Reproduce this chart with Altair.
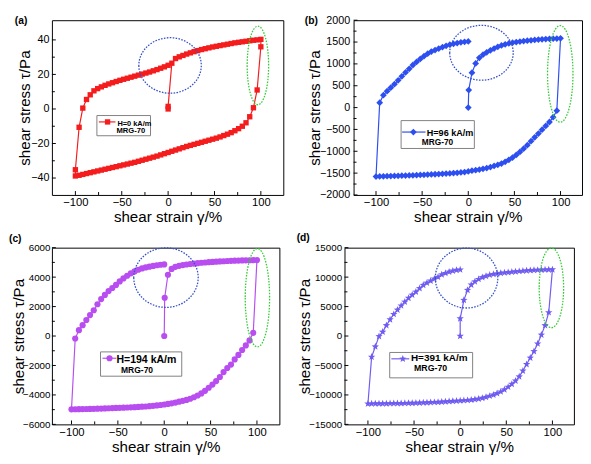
import math
import altair as alt
import pandas as pd

FONT = "Liberation Sans"

# ---------------- data ----------------
STRAIN_VIRGIN = [4, 8, 12, 16, 20, 24, 28, 32, 36, 40, 44, 48, 52, 56, 60, 64, 68, 72, 76, 80, 84, 88, 92, 96, 100]
STRAIN_DOWN = [96, 92, 88, 84, 80, 76, 72, 68, 64, 60, 56, 52, 48, 44, 40, 36, 32, 28, 24, 20, 16, 12, 8, 4, 0,
               -4, -8, -12, -16, -20, -24, -28, -32, -36, -40, -44, -48, -52, -56, -60, -64, -68, -72, -76, -80,
               -84, -88, -92, -96, -100]
STRAIN_UP = [-96, -92, -88, -84, -80, -76, -72, -68, -64, -60, -56, -52, -48, -44, -40, -36, -32, -28, -24, -20,
             -16, -12, -8, -4, 0]

# panel (a) H=0 kA/m
A_START_STRAIN = [0, 0]
A_START_STRESS = [0, 1.5]
A_VIRGIN = [26.5, 29.2, 30.2, 31.0, 31.8, 32.5, 33.2, 33.8, 34.4, 34.9, 35.4, 35.9, 36.3, 36.7, 37.1, 37.5, 37.9,
            38.3, 38.6, 38.9, 39.2, 39.5, 39.8, 40.0, 40.3]
A_TOP_STRAIN = [100]
A_TOP_STRESS = [36]
A_DOWN = [11, 0.7, -4.5, -8.0, -10.0, -11.4, -12.6, -13.7, -14.6, -15.4, -16.2, -16.9, -17.5, -18.1, -18.7, -19.3,
          -19.9, -20.5, -21.1, -21.7, -22.4, -23.1, -23.8, -24.5, -25.2, -25.9, -26.6, -27.3, -27.9, -28.5, -29.1,
          -29.7, -30.3, -30.9, -31.4, -31.9, -32.4, -32.9, -33.4, -33.9, -34.4, -34.9, -35.4, -35.9, -36.4, -36.9,
          -37.4, -37.9, -38.4, -38.8]
A_BOT_STRAIN = [-100]
A_BOT_STRESS = [-35.2]
A_UP = [-10.6, 0.5, 5.5, 8.2, 10.5, 11.8, 12.8, 13.7, 14.5, 15.2, 15.9, 16.6, 17.2, 17.8, 18.4, 19.0, 19.6, 20.2,
        20.8, 21.4, 22.1, 22.8, 23.6, 24.4, 25.3]

# panel (b) H=96 kA/m
B_START_STRAIN = [0, 0.5]
B_START_STRESS = [0, 400]
B_VIRGIN = [800, 1010, 1140, 1210, 1265, 1310, 1352, 1390, 1422, 1448, 1468, 1485, 1500, 1512, 1522, 1532, 1541,
            1549, 1556, 1562, 1568, 1573, 1577, 1581, 1585]
B_DOWN = [-70, -220, -330, -420, -505, -595, -680, -770, -860, -940, -1015, -1085, -1145, -1195, -1240, -1280,
          -1310, -1335, -1362, -1385, -1402, -1418, -1432, -1445, -1462, -1475, -1485, -1493, -1500, -1506, -1511,
          -1516, -1521, -1526, -1530, -1534, -1538, -1542, -1546, -1550, -1553, -1556, -1559, -1562, -1565, -1568,
          -1571, -1574, -1577, -1580]
B_UP = [113, 285, 375, 455, 535, 625, 715, 805, 887, 975, 1045, 1115, 1178, 1235, 1282, 1318, 1352, 1383, 1413,
        1440, 1460, 1478, 1494, 1505, 1515]

# panel (c) H=194 kA/m
C_START_STRAIN = [0, 0.5]
C_START_STRESS = [0, 2600]
C_VIRGIN = [4160, 4560, 4700, 4770, 4820, 4860, 4890, 4920, 4950, 4975, 4995, 5015, 5035, 5050, 5065, 5080, 5095,
            5105, 5115, 5125, 5135, 5140, 5145, 5150, 5160]
C_DOWN = [220, -300, -640, -950, -1280, -1590, -1940, -2170, -2450, -2780, -3060, -3300, -3510, -3720, -3900,
          -4040, -4160, -4260, -4340, -4400, -4460, -4520, -4570, -4610, -4650, -4685, -4715, -4740, -4765, -4785,
          -4800, -4815, -4830, -4845, -4855, -4865, -4875, -4885, -4895, -4905, -4915, -4925, -4935, -4945, -4950,
          -4955, -4962, -4968, -4973, -4980]
C_UP = [-170, 400, 740, 1090, 1420, 1750, 2160, 2510, 2790, 3050, 3260, 3470, 3710, 3910, 4095, 4260, 4390, 4500,
        4590, 4660, 4710, 4760, 4805, 4840, 4865]

# panel (d) H=391 kA/m
D_START_STRAIN = [0, 0]
D_START_STRESS = [0, 2970]
D_VIRGIN = [6100, 7800, 8700, 9230, 9650, 9950, 10180, 10370, 10500, 10600, 10680, 10750, 10820, 10880, 10950,
            11000, 11050, 11100, 11140, 11180, 11210, 11240, 11260, 11280, 11290]
D_DOWN = [4000, 1800, 200, -1300, -2600, -3700, -4800, -5900, -6900, -7600, -8150, -8650, -9100, -9450, -9730,
          -9980, -10180, -10370, -10530, -10660, -10760, -10840, -10900, -10940, -10980, -11020, -11060, -11100,
          -11140, -11180, -11210, -11240, -11270, -11295, -11320, -11340, -11360, -11375, -11390, -11405, -11420,
          -11430, -11440, -11450, -11460, -11468, -11476, -11484, -11492, -11500]
D_UP = [-3550, -1800, -50, 700, 1800, 2800, 3700, 4450, 5150, 5800, 6450, 6980, 7500, 8100, 8650, 9020, 9380,
        9720, 10020, 10430, 10670, 10900, 11080, 11200, 11260]

LEGEND_LABELS = ["H=0 kA/m", "H=96 kA/m", "H=194 kA/m", "H=391 kA/m"]
SAMPLE_NAME = "MRG-70"
PANEL_LETTERS = ["(a)", "(b)", "(c)", "(d)"]

X_MAJOR = [-100, -50, 0, 50, 100]
X_MINOR = [-75, -25, 25, 75]
A_Y_MAJOR = [-40, -20, 0, 20, 40]
A_Y_MINOR = [-30, -10, 10, 30]
B_Y_MAJOR = [-2000, -1500, -1000, -500, 0, 500, 1000, 1500, 2000]
B_Y_MINOR = [-1750, -1250, -750, -250, 250, 750, 1250, 1750]
C_Y_MAJOR = [-6000, -4000, -2000, 0, 2000, 4000, 6000]
C_Y_MINOR = [-5000, -3000, -1000, 1000, 3000, 5000]
D_Y_MAJOR = [-15000, -10000, -5000, 0, 5000, 10000, 15000]
D_Y_MINOR = [-12500, -7500, -2500, 2500, 7500, 12500]


def seq(*parts):
    out = []
    for p in parts:
        out += list(p)
    return out


# ---------------- styling helpers ----------------
def star_path():
    pts = []
    for k in range(10):
        ang = math.radians(-90 + 36 * k)
        r = 1.0 if k % 2 == 0 else 0.42
        pts.append(f"{r * math.cos(ang):.3f} {r * math.sin(ang):.3f}")
    return "M " + " L ".join(pts) + " Z"


def ellipse(w, h):
    m = max(w, h)
    rx, ry = w / m, h / m
    path = (f"M {-rx:.3f} 0 A {rx:.3f} {ry:.3f} 0 1 0 {rx:.3f} 0 "
            f"A {rx:.3f} {ry:.3f} 0 1 0 {-rx:.3f} 0 Z")
    return path, m * m


def panel(p):
    w, h = p["w"], p["h"]
    xs = alt.Scale(domain=p["xdom"], nice=False, zero=False)
    ys = alt.Scale(domain=p["ydom"], nice=False, zero=False)

    xaxis = alt.Axis(values=X_MAJOR, format="d", ticks=False, domain=False, grid=False, labelFont=FONT,
                     labelFontSize=11.5, labelColor="black", labelPadding=2,
                     title="shear strain γ/%", titleFont=FONT, titleFontSize=15.5,
                     titleFontWeight="normal", titleColor="black", titleY=27.5,
                     titleBaseline="alphabetic")
    yaxis = alt.Axis(values=p["ymajor"], format="d", ticks=False, domain=False, grid=False, labelFont=FONT,
                     labelFontSize=p["lfs"], labelColor="black", labelPadding=p["lpad"],
                     title="shear stress τ/Pa", titleFont=FONT, titleFontSize=15.5,
                     titleFontWeight="normal", titleColor="black", titleX=p["titleX"],
                     titleBaseline="top")

    def X(f):
        return alt.X(f, scale=xs, axis=xaxis)

    def Y(f):
        return alt.Y(f, scale=ys, axis=yaxis)

    df = pd.DataFrame({"i": list(range(len(p["strain"]))), "g": p["strain"], "t": p["stress"]})
    base = alt.Chart(df)
    line = base.mark_line(color=p["color"], strokeWidth=1.2).encode(
        x=X("g:Q"), y=Y("t:Q"), order="i:Q")
    pts = base.mark_point(filled=True, shape=p["shape"], size=p["size"], color=p["color"],
                          opacity=1).encode(x=X("g:Q"), y=Y("t:Q"))

    layers = [line, pts]

    # inward ticks
    for vals, ln in ((X_MAJOR, 4), (X_MINOR, 3)):
        layers.append(alt.Chart(pd.DataFrame({"v": vals})).mark_rule(color="black", strokeWidth=1).encode(
            x=X("v:Q"), y=alt.value(h), y2=alt.value(h - ln)))
    for vals, ln in ((p["ymajor"], 4), (p["yminor"], 3)):
        layers.append(alt.Chart(pd.DataFrame({"v": vals})).mark_rule(color="black", strokeWidth=1).encode(
            y=Y("v:Q"), x=alt.value(0), x2=alt.value(ln)))

    # annotation ellipses
    rows = []
    for (cx, cy, ew, eh, col) in p["ann"]:
        path, sz = ellipse(ew, eh * p["vscale"])
        rows.append({"cx": cx, "cy": cy, "path": path, "sz": sz, "c": col})
    adf = pd.DataFrame(rows)
    layers.append(alt.Chart(adf).mark_point(filled=False, strokeWidth=1.3, strokeDash=[1.6, 1.4],
                                            opacity=1).encode(
        x=X("cx:Q"), y=Y("cy:Q"),
        shape=alt.Shape("path:N", scale=None),
        size=alt.Size("sz:Q", scale=None),
        color=alt.Color("c:N", scale=None)))

    # legend box
    lg = p["legend"]
    box = pd.DataFrame({"x1": [lg["box"][0]], "x2": [lg["box"][1]], "y1": [lg["box"][2]], "y2": [lg["box"][3]]})
    layers.append(alt.Chart(box).mark_rect(fill="white", stroke="#808080", strokeWidth=1).encode(
        x=X("x1:Q"), x2="x2:Q", y=Y("y1:Q"), y2="y2:Q"))
    samp = pd.DataFrame({"x1": [lg["line"][0]], "x2": [lg["line"][1]], "y": [lg["line"][2]],
                         "mx": [lg["marker"]]})
    layers.append(alt.Chart(samp).mark_rule(color=p["color"], strokeWidth=1.2).encode(
        x=X("x1:Q"), x2="x2:Q", y=Y("y:Q")))
    layers.append(alt.Chart(samp).mark_point(filled=True, shape=p["shape"], size=p["size"],
                                             color=p["color"], opacity=1).encode(x=X("mx:Q"), y=Y("y:Q")))
    t1 = pd.DataFrame({"x": [lg["t1"][0]], "y": [lg["t1"][1]], "s": [p["label"]]})
    t2 = pd.DataFrame({"x": [lg["t2"][0]], "y": [lg["t2"][1]], "s": [SAMPLE_NAME]})
    layers.append(alt.Chart(t1).mark_text(align="left", baseline="alphabetic", font=FONT, fontWeight="bold",
                                          fontSize=lg["f1"], color="black").encode(
        x=X("x:Q"), y=Y("y:Q"), text="s:N"))
    layers.append(alt.Chart(t2).mark_text(align="left", baseline="alphabetic", font=FONT, fontWeight="bold",
                                          fontSize=lg["f2"], color="black").encode(
        x=X("x:Q"), y=Y("y:Q"), text="s:N"))

    # panel letter
    layers.append(alt.Chart(pd.DataFrame({"s": [p["letter"]]})).mark_text(
        align="left", baseline="alphabetic", font=FONT, fontWeight="bold", fontSize=10.5, color="black").encode(
        text="s:N", x=alt.value(p["letter_xy"][0]), y=alt.value(p["letter_xy"][1])))

    return alt.layer(*layers).properties(width=w, height=h)


BLUE_C = "#3450c8"
GREEN_C = "#33cc33"
TOP_H, BOT_H = 179, 181

PA = dict(strain=seq(A_START_STRAIN, STRAIN_VIRGIN, A_TOP_STRAIN, STRAIN_DOWN, A_BOT_STRAIN, STRAIN_UP),
          stress=seq(A_START_STRESS, A_VIRGIN, A_TOP_STRESS, A_DOWN, A_BOT_STRESS, A_UP),
          w=237, h=TOP_H, vscale=TOP_H / 189, xdom=[-125.3, 124.2], ydom=[-49.8, 51.4],
          ymajor=A_Y_MAJOR, yminor=A_Y_MINOR, titleX=-34.7, lpad=3, lfs=11, color="#f41c1c", shape="square",
          size=30, label=LEGEND_LABELS[0], letter=PANEL_LETTERS[0], letter_xy=(-38, 4),
          ann=[(2.1, 25.2, 64, 60, BLUE_C), (96.8, 25.2, 22, 85, GREEN_C)],
          legend=dict(box=(-76.8, -19, -15.5, -3.8), line=(-74.7, -56.8, -7.5), marker=-65.3,
                      t1=(-54.7, -9.6), t2=(-55.8, -14.2), f1=7.6, f2=7.8))

PB = dict(strain=seq(B_START_STRAIN, STRAIN_VIRGIN, STRAIN_DOWN, STRAIN_UP),
          stress=seq(B_START_STRESS, B_VIRGIN, B_DOWN, B_UP),
          w=234, h=TOP_H, vscale=TOP_H / 188, xdom=[-124.3, 123.3], ydom=[-2000, 2000],
          ymajor=B_Y_MAJOR, yminor=B_Y_MINOR, titleX=-46.7, lpad=4, lfs=11, color="#2d4ff0", shape="diamond",
          size=48, label=LEGEND_LABELS[1], letter=PANEL_LETTERS[1], letter_xy=(-50, 4),
          ann=[(14.3, 1255, 65, 59, BLUE_C), (99.7, 772, 26, 104, GREEN_C)],
          legend=dict(box=(-72.8, 6.6, -936, -298), line=(-71.7, -46.3, -560), marker=-59.5,
                      t1=(-45, -649), t2=(-50.3, -862), f1=9.3, f2=8.5))

PC = dict(strain=seq(C_START_STRAIN, STRAIN_VIRGIN, STRAIN_DOWN, STRAIN_UP),
          stress=seq(C_START_STRESS, C_VIRGIN, C_DOWN, C_UP),
          w=233, h=BOT_H, vscale=BOT_H / 187, xdom=[-121.1, 124.2], ydom=[-6000, 6000],
          ymajor=C_Y_MAJOR, yminor=C_Y_MINOR, titleX=-40.7, lpad=2, lfs=10, color="#b84ef0", shape="circle",
          size=40, label=LEGEND_LABELS[2], letter=PANEL_LETTERS[2], letter_xy=(-44, -6),
          ann=[(1.9, 3967, 66, 63, BLUE_C), (100.5, 2600, 25, 104, GREEN_C)],
          legend=dict(box=(-68.7, 18.9, -2728, -1078), line=(-66.6, -51.6, -1508), marker=-59,
                      t1=(-51.6, -1830), t2=(-46.6, -2535), f1=10.8, f2=8.7))

PD = dict(strain=seq(D_START_STRAIN, STRAIN_VIRGIN, STRAIN_DOWN, STRAIN_UP),
          stress=seq(D_START_STRESS, D_VIRGIN, D_DOWN, D_UP),
          w=235, h=BOT_H, vscale=BOT_H / 186, xdom=[-125.4, 123.3], ydom=[-15000, 15000],
          ymajor=D_Y_MAJOR, yminor=D_Y_MINOR, titleX=-48, lpad=3, lfs=10, color="#6f5cf0", shape=star_path(),
          size=62, label=LEGEND_LABELS[3], letter=PANEL_LETTERS[3], letter_xy=(-49, -7),
          ann=[(6.9, 9840, 64, 63, BLUE_C), (98.9, 8180, 25, 84, GREEN_C)],
          legend=dict(box=(-76.4, 13.5, -7100, -2790), line=(-74.6, -55.2, -3870), marker=-62.2,
                      t1=(-53.4, -4300), t2=(-50, -5900), f1=10.2, f2=9))

top = alt.hconcat(panel(PA), panel(PB), spacing=20)
bot = alt.hconcat(panel(PC), panel(PD), spacing=15.7)
chart = alt.vconcat(top, bot, spacing=6).properties(
    padding=0, background="white").configure_view(stroke="black", strokeWidth=1)

chart.save("out.html", embed_options={"renderer": "svg", "actions": False})
